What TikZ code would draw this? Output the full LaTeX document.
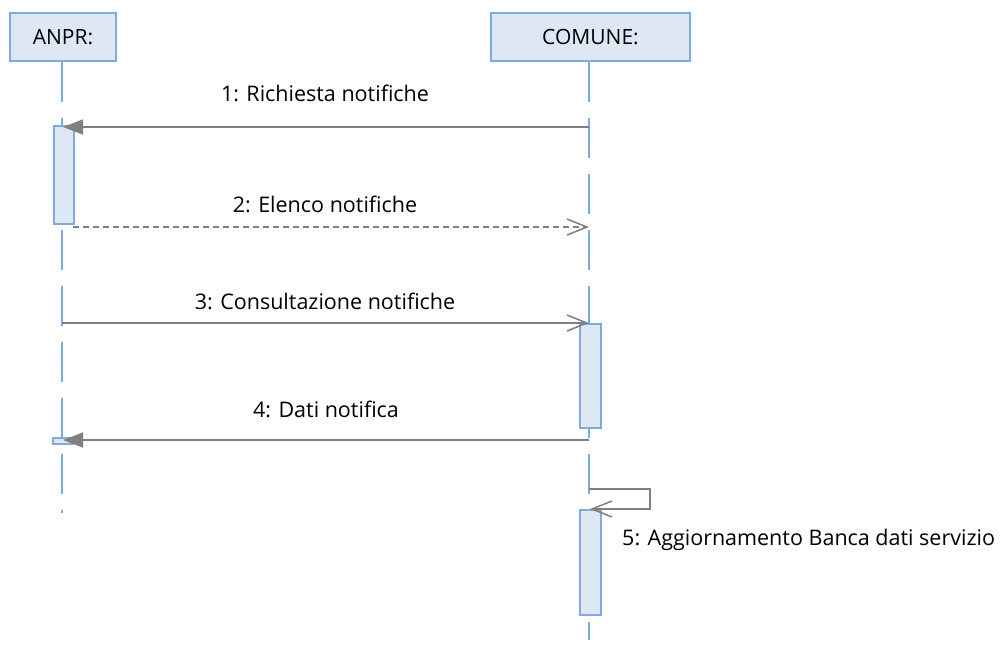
\documentclass[tikz,border=0pt]{standalone}
\usepackage{fontspec}
\setmainfont{Open Sans}
\usetikzlibrary{arrows.meta}
\definecolor{boxfill}{HTML}{DEE8F4}
\definecolor{boxline}{HTML}{7DAAE0}
\definecolor{msgcol}{HTML}{808080}
\begin{document}
\begin{tikzpicture}[x=1pt,y=-1pt,
  objbox/.style={draw=boxline, fill=boxfill, line width=1.5pt, minimum height=48pt, inner sep=0pt, font=\fontsize{21}{24}\selectfont},
  lifeline/.style={draw=boxline, line width=1.5pt, dash pattern=on 40pt off 16pt},
  actbox/.style={draw=boxline, fill=boxfill, line width=1.5pt},
  msgline/.style={draw=msgcol, line width=1.5pt},
  synch/.style={msgline, -{Triangle[length=20pt,width=15pt]}},
  reply/.style={msgline, -{Straight Barb[length=20pt,width=16pt]}},
  msglabel/.style={font=\fontsize{21.5}{24}\selectfont, inner sep=0pt}
]
\useasboundingbox (0,0) rectangle (1008,646);
% objects
\node[objbox, minimum width=106pt] (anpr) at (63,37) {ANPR:};
\node[objbox, minimum width=199pt] (comune) at (590.5,37) {COMUNE:};
% lifelines
\coordinate (anprend) at (62,513);
\coordinate (comuneend) at (589,640);
\draw[lifeline] (anpr.south -| anprend) -- (anprend);
\draw[lifeline] (comune.south -| comuneend) -- (comuneend);
% activations
\node[actbox, minimum width=20pt, minimum height=98pt, inner sep=0pt, anchor=north west] (act1) at (53,125) {};
\node[actbox, minimum width=20pt, minimum height=6pt, inner sep=0pt, anchor=north west] (act2) at (52,437) {};
\node[actbox, minimum width=21pt, minimum height=104pt, inner sep=0pt, anchor=north west] (act3) at (579,323) {};
\node[actbox, minimum width=21pt, minimum height=105pt, inner sep=0pt, anchor=north west] (act4) at (579,509) {};
% message endpoints
\coordinate (m1s) at (589,127); \coordinate (m1e) at (63,127);
\coordinate (m2s) at (73,227); \coordinate (m2e) at (589,227);
\coordinate (m3s) at (62,323); \coordinate (m3e) at (589,323);
\coordinate (m4s) at (589,440); \coordinate (m4e) at (63,440);
\coordinate (m5s) at (589,489); \coordinate (m5a) at (650,489);
\coordinate (m5b) at (650,509); \coordinate (m5e) at (590,509);
% messages
\draw[synch] (m1s) -- (m1e);
\draw[reply, dashed, dash pattern=on 6pt off 4pt] (m2s) -- (m2e);
\draw[reply] (m3s) -- (m3e);
\draw[synch] (m4s) -- (m4e);
\draw[reply] (m5s) -- (m5a) -- (m5b) -- (m5e);
% labels
\node[msglabel] (l1) at (325,93) {1: Richiesta notifiche};
\node[msglabel] (l2) at (325,204) {2: Elenco notifiche};
\node[msglabel] (l3) at (325,301) {3: Consultazione notifiche};
\node[msglabel] (l4) at (326,409) {4: Dati notifica};
\node[msglabel, anchor=west] (l5) at (622,540) {5: Aggiornamento Banca dati servizio};
\end{tikzpicture}
\end{document}
